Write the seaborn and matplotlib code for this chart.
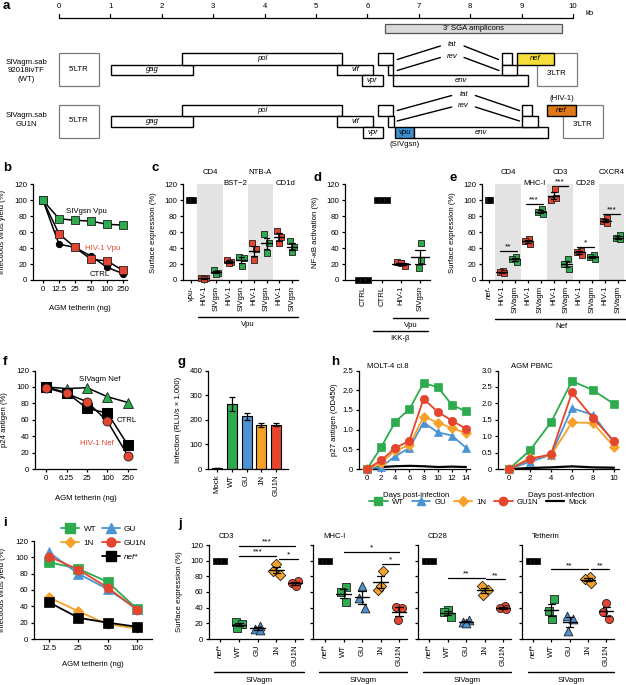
import numpy as np
import matplotlib
matplotlib.use('Agg')
import matplotlib.pyplot as plt
import seaborn as sns
from matplotlib.patches import Rectangle
from matplotlib.lines import Line2D

# ------------------------------------------------------------------ data
kb_ticks = [0, 1, 2, 3, 4, 5, 6, 7, 8, 9, 10]
sga_start, sga_end = 6.34, 9.79

wt_genes = ['gag', 'pol', 'vif', 'vpr', 'tat', 'rev', 'env', 'tat', 'rev', 'nef']
wt_start = [1.01, 2.40, 5.41, 5.89, 6.21, 6.40, 6.50, 8.62, 8.62, 8.91]
wt_end = [2.61, 5.51, 6.11, 6.30, 6.50, 6.50, 9.12, 8.81, 8.91, 9.63]
wt_frame = [1, 0, 1, 2, 0, 1, 2, 0, 1, 0]
wt_ltr = [(0.0, 0.78, "5'LTR"), (9.30, 10.08, "3'LTR")]

gu_genes = ['gag', 'pol', 'vif', 'vpr', 'tat', 'rev', 'vpu', 'env', 'tat', 'rev', 'nef']
gu_start = [1.01, 2.40, 5.41, 5.91, 6.21, 6.40, 6.54, 6.91, 9.01, 9.01, 9.49]
gu_end = [2.61, 5.51, 6.11, 6.30, 6.50, 6.52, 6.91, 9.51, 9.20, 9.32, 10.06]
gu_frame = [1, 0, 1, 2, 0, 1, 2, 2, 0, 1, 0]
gu_ltr = [(0.0, 0.78, "5'LTR"), (9.81, 10.58, "3'LTR")]

b_doses = ['0', '12.5', '25', '50', '100', '250']
b_sivgsn = [100, 77, 75, 74, 70, 69]
b_hiv = [100, 58, 41, 26, 24, 12]
b_ctrl = [100, 45, 41, 30, 16, 8]

c_ticklabels = ['vpu-', 'HIV-1', 'SIVgsn', 'HIV-1', 'SIVgsn', 'HIV-1', 'SIVgsn', 'HIV-1', 'SIVgsn']
c_groups = ['CD4', 'BST\u22122', 'NTB-A', 'CD1d']
c_ctrl = [100, 100, 100]
c_hiv = [[2, 3, 1], [25, 22, 21], [46, 39, 25], [62, 54, 46]]
c_siv = [[12, 9, 8], [29, 28, 18], [58, 47, 34], [49, 42, 35]]

d_ticklabels = ['CTRL', 'CTRL', 'HIV-1', 'SIVgsn']
d_neg = [0, 0, 0]
d_pos = [100, 100, 100]
d_hiv = [22, 17, 21]
d_siv = [46, 25, 15]

e_ticklabels = ['nef-'] + ['HIV-1', 'SIVagm'] * 5
e_groups = ['CD4', 'MHC-I', 'CD3', 'CD28', 'CXCR4']
e_ctrl = [100, 100, 100]
e_hiv = [[11, 10, 9], [52, 49, 45], [114, 101, 103], [37, 35, 32], [78, 74, 72]]
e_siv = [[29, 27, 22], [89, 86, 83], [27, 20, 14], [31, 29, 27], [56, 53, 51]]
e_stars = ['**', '***', '***', '*', '***']
e_star_y = [37, 96, 118, 42, 83]

f_doses = ['0', '6.25', '25', '100', '250']
f_sivagm = [100, 98, 99, 88, 81]
f_ctrl = [100, 93, 74, 68, 29]
f_hiv = [99, 92, 82, 58, 16]

g_cats = ['Mock', 'WT', 'GU', '1N', 'GU1N']
g_vals = [4, 265, 215, 180, 180]
g_err = [1, 28, 14, 8, 6]

strains = ['WT', 'GU', '1N', 'GU1N', 'Mock']
molt_days = [0, 2, 4, 6, 8, 10, 12, 14]
molt_wt = [0, 0.55, 1.20, 1.52, 2.18, 2.08, 1.63, 1.46]
molt_gu = [0, 0.05, 0.33, 0.53, 1.18, 0.93, 0.85, 0.54]
molt_1n = [0, 0.15, 0.47, 0.60, 1.33, 1.18, 1.04, 0.91]
molt_gu1n = [0, 0.22, 0.53, 0.72, 1.78, 1.45, 1.23, 1.02]
molt_mock = [0, 0.05, 0.07, 0.08, 0.07, 0.05, 0.06, 0.05]
pbmc_days = [0, 2, 4, 6, 8, 10]
pbmc_wt = [0, 0.57, 1.42, 2.68, 2.40, 1.98]
pbmc_gu = [0, 0.22, 0.43, 1.85, 1.65, 0.80]
pbmc_1n = [0, 0.33, 0.42, 1.42, 1.40, 0.68]
pbmc_gu1n = [0, 0.30, 0.45, 2.33, 1.55, 0.85]
pbmc_mock = [0, 0.03, 0.05, 0.08, 0.05, 0.04]

i_doses = ['12.5', '25', '50', '100']
i_wt = [94, 86, 70, 37]
i_gu = [106, 80, 61, 37]
i_1n = [51, 34, 18, 13]
i_gu1n = [101, 85, 63, 36]
i_nef = [45, 26, 20, 15]

j_titles = ['CD3', 'MHC-I', 'CD28', 'Tetherin']
j_cats = ['nef*', 'WT', 'GU', '1N', 'GU1N']
j_nef = [100, 100, 100]
j_wt = [[22, 19, 14], [66, 60, 47], [37, 34, 28], [51, 36, 25]]
j_gu = [[17, 13, 11], [68, 52, 40], [24, 22, 21], [30, 25, 10]]
j_1n = [[96, 87, 82], [87, 63, 68], [68, 62, 56], [79, 76, 72]]
j_gu1n = [[74, 71, 68], [41, 40, 24], [42, 39, 38], [46, 35, 25]]
j_sig = [[(1, 4, 119, '***'), (1, 3, 106, '***'), (3.15, 4.15, 102, '*')],
         [(1, 4, 111, '*'), (3.1, 4, 96, '*')],
         [(1, 3, 78, '**'), (3.1, 4.1, 76, '**')],
         [(1, 3, 89, '**'), (3.15, 4.15, 89, '**')]]

# ------------------------------------------------------------------ style
sns.set_theme(style='ticks')
plt.rcParams['font.family'] = ['Liberation Sans', 'DejaVu Sans']
FS = 5.6
plt.rcParams.update({'font.size': FS, 'axes.linewidth': 0.9,
                     'xtick.major.width': 0.9, 'ytick.major.width': 0.9,
                     'xtick.major.size': 2.5, 'ytick.major.size': 2.5,
                     'xtick.labelsize': FS, 'ytick.labelsize': FS,
                     'axes.labelsize': FS, 'xtick.major.pad': 1.5,
                     'ytick.major.pad': 1.5, 'axes.edgecolor': 'black',
                     'xtick.color': 'black', 'ytick.color': 'black',
                     'text.color': 'black', 'axes.labelcolor': 'black'})

GREEN = '#2eaa4f'
RED = '#e4452e'
BLUE = '#4b93d3'
ORANGE = '#f5a12a'
EDGE = '#1e1e1e'
BAND = '#e3e3e3'

W, H = 626, 685
fig = plt.figure(figsize=(W / 100, H / 100), dpi=100)


def add_ax(box):
    x0, y0, x1, y1 = box
    ax = fig.add_axes([x0 / W, 1 - y1 / H, (x1 - x0) / W, (y1 - y0) / H])
    ax._pxbox = box
    return ax


def ya(ax, ypx):
    x0, y0, x1, y1 = ax._pxbox
    return (y1 - ypx) / (y1 - y0)


def xa(ax, xpx):
    x0, y0, x1, y1 = ax._pxbox
    return (xpx - x0) / (x1 - x0)


def xlim_px(ax, p0, sp):
    x0, y0, x1, y1 = ax._pxbox
    ax.set_xlim((x0 - p0) / sp, (x1 - p0) / sp)


def ftext(xpx, ypx, s, **kw):
    fig.text(xpx / W, 1 - ypx / H, s, **kw)


def style(ax):
    sns.despine(ax=ax)
    ax.set_facecolor('none')
    ax.tick_params(length=2.5, width=0.9, pad=1.5, labelsize=FS)


def underline(ax, a, b, ypx, label, typx):
    tr = ax.get_xaxis_transform()
    ax.plot([a, b], [ya(ax, ypx)] * 2, color='black', lw=1.0, transform=tr, clip_on=False)
    ax.text((a + b) / 2, ya(ax, typx), label, transform=tr, ha='center', va='center', fontsize=FS)


def dots(ax, pos, vals, offs, color, marker, ms, mean_hw=None, cap_hw=None):
    xs = [pos + o for o in offs[:len(vals)]]
    sns.scatterplot(x=xs, y=vals, ax=ax, color=color, marker=marker, s=ms ** 2,
                    edgecolor=EDGE, linewidth=0.6, zorder=3, clip_on=False, legend=False)
    if mean_hw:
        m = float(np.mean(vals))
        se = float(np.std(vals, ddof=1) / np.sqrt(len(vals)))
        ax.plot([pos - mean_hw, pos + mean_hw], [m, m], color='black', lw=1.0, zorder=4, clip_on=False)
        if se > 0:
            ax.plot([pos, pos], [m - se, m + se], color='black', lw=0.9, zorder=4, clip_on=False)
            for v in (m - se, m + se):
                ax.plot([pos - cap_hw, pos + cap_hw], [v, v], color='black', lw=0.9, zorder=4, clip_on=False)


def sig(ax, a, b, y, stars):
    ax.plot([a, b], [y, y], color='black', lw=0.9, clip_on=False)
    ax.text((a + b) / 2, y + 0.5, stars, ha='center', va='bottom', fontsize=FS + 0.5)


def letter(xpx, ypx, s):
    ftext(xpx, ypx, s, fontsize=9.5, fontweight='bold', ha='left', va='center')


# ------------------------------------------------------------------ panel a
axa = add_ax((0, 0, 626, 150))
axa.set_xlim(-59 / 51.4, (626 - 59) / 51.4)
axa.set_ylim(150, 0)
axa.axis('off')
axa.plot([kb_ticks[0], kb_ticks[-1]], [18, 18], color='black', lw=0.9)
for k in kb_ticks:
    axa.plot([k, k], [18, 13.5], color='black', lw=0.9)
    axa.text(k, 7, str(k), ha='center', va='center', fontsize=FS)
axa.text(10.33, 13.5, 'kb', ha='center', va='center', fontsize=FS)
axa.add_patch(Rectangle((sga_start, 23.5), sga_end - sga_start, 9.5, fc='#d9d9d9', ec='#555555', lw=0.9))
axa.text((sga_start + sga_end) / 2, 28.3, "3\u2032 SGA amplicons", ha='center', va='center', fontsize=FS)

frame_y = [(0, 11.7), (11.7, 22.2), (22.2, 33.0)]


def genome(top, names, starts, ends, frames, ltrs, special):
    for s, e, lab in ltrs:
        axa.add_patch(Rectangle((s, top), e - s, 33, fc='white', ec='#7a7a7a', lw=0.9))
        yl = top + 16.5 if lab.startswith('5') else top + 20.5
        axa.text((s + e) / 2, yl, lab.replace("'", "\u2032"), ha='center', va='center', fontsize=FS)
    for n, s, e, f in zip(names, starts, ends, frames):
        y0, y1 = frame_y[f]
        fc = special.get(n, 'white')
        axa.add_patch(Rectangle((s, top + y0), e - s, y1 - y0, fc=fc, ec='black', lw=1.0, zorder=3))
        if n not in ('tat', 'rev'):
            axa.text((s + e) / 2, top + (y0 + y1) / 2, n, ha='center', va='center',
                     fontsize=FS, style='italic', zorder=4)


genome(53, wt_genes, wt_start, wt_end, wt_frame, wt_ltr, {'nef': '#f6de3a'})
genome(104.5, gu_genes, gu_start, gu_end, gu_frame, gu_ltr, {'nef': '#e0781a', 'vpu': '#3d8fd0'})


def splice(top, x_start, x_end, peak, lab, yl, yh):
    axa.plot([x_start, peak - 0.23], [top + yl, top + yh], color='black', lw=1.0)
    axa.plot([peak + 0.23, x_end], [top + yh, top + yl], color='black', lw=1.0)
    axa.text(peak, top + yh - 1.5, lab, ha='center', va='center', fontsize=FS, style='italic')


splice(53, 6.58, 8.55, 7.65, 'tat', 6.5, -7.0)
splice(53, 6.58, 8.56, 7.65, 'rev', 17.5, 4.5)
splice(104.5, 6.58, 8.96, 7.87, 'tat', 6.0, -9.0)
splice(104.5, 6.58, 8.96, 7.87, 'rev', 16.5, 2.5)
axa.text(9.79, 98, '(HIV-1)', ha='center', va='center', fontsize=FS)
axa.text(6.73, 145, '(SIVgsn)', ha='center', va='center', fontsize=FS)
ftext(26, 71, 'SIVagm.sab\n92018ivTF\n(WT)', ha='center', va='center', fontsize=FS, linespacing=1.25)
ftext(26, 120, 'SIVagm.sab\nGU1N', ha='center', va='center', fontsize=FS, linespacing=1.25)
letter(3, 6, 'a')

# ------------------------------------------------------------------ panel b
axb = add_ax((33, 184.5, 127, 280))
style(axb)
xb = np.arange(len(b_doses))
sns.lineplot(x=xb, y=b_ctrl, ax=axb, color='black', lw=1.1, marker='o', markersize=4.5,
             markerfacecolor='black', markeredgecolor='black', clip_on=False, legend=False)
sns.lineplot(x=xb, y=b_hiv, ax=axb, color='black', lw=1.1, marker='s', markersize=6,
             markerfacecolor=RED, markeredgecolor=EDGE, markeredgewidth=0.6, clip_on=False, legend=False)
sns.lineplot(x=xb, y=b_sivgsn, ax=axb, color='black', lw=1.1, marker='s', markersize=6,
             markerfacecolor=GREEN, markeredgecolor=EDGE, markeredgewidth=0.6, clip_on=False, legend=False)
axb.set_ylim(0, 120)
axb.set_yticks(range(0, 121, 20))
xlim_px(axb, 43, 16)
axb.set_xticks(xb)
axb.set_xticklabels(b_doses)
axb.set_xlabel('AGM tetherin (ng)')
axb.xaxis.set_label_coords(0.5, ya(axb, 305))
axb.set_ylabel('Infectious virus yield (%)')
axb.yaxis.set_label_coords(xa(axb, 6), 0.5)
axb.text(2.7, 86, 'SIVgsn Vpu', ha='center', va='center', fontsize=FS)
axb.text(3.7, 40, 'HIV-1 Vpu', ha='center', va='center', fontsize=FS, color=RED)
axb.text(3.55, 7.5, 'CTRL', ha='center', va='center', fontsize=FS)
letter(3, 168, 'b')

# ------------------------------------------------------------------ panel c
axc = add_ax((183, 184.5, 298, 280))
style(axc)
axc.set_ylim(0, 120)
axc.set_yticks(range(0, 121, 20))
xlim_px(axc, 191, 12.6)
for k in (0, 2):
    axc.axvspan(2 * k + 0.5, 2 * k + 2.5, color=BAND, lw=0, zorder=0)
dots(axc, 0, c_ctrl, [-0.15, 0.0, 0.15], 'black', 's', 5)
offs = [-0.18, 0.17, 0.02]
for k in range(4):
    dots(axc, 2 * k + 1, c_hiv[k], offs, RED, 's', 5, 0.42, 0.22)
    dots(axc, 2 * k + 2, c_siv[k], offs, GREEN, 's', 5, 0.42, 0.22)
axc.set_xticks(range(len(c_ticklabels)))
axc.set_xticklabels(c_ticklabels, rotation=90)
axc.get_xticklabels()[0].set_style('italic')
trc = axc.get_xaxis_transform()
for k, g in enumerate(c_groups):
    axc.text(2 * k + 1.5, ya(axc, 173 if k % 2 == 0 else 183.5), g, transform=trc,
             ha='center', va='center', fontsize=FS)
axc.set_ylabel('Surface expression (%)')
axc.yaxis.set_label_coords(xa(axc, 157), 0.5)
underline(axc, 0.55, 8.5, 317, 'Vpu', 324.5)
letter(152, 168, 'c')

# ------------------------------------------------------------------ panel d
axd = add_ax((345, 184.5, 430, 280))
style(axd)
axd.set_ylim(0, 120)
axd.set_yticks(range(0, 121, 20))
xlim_px(axd, 363, 19)
dots(axd, 0, d_neg, [-0.25, 0.0, 0.25], 'black', 's', 5)
dots(axd, 1, d_pos, [-0.25, 0.0, 0.25], 'black', 's', 5)
dots(axd, 2, d_hiv, [-0.2, 0.2, 0.02], RED, 's', 5, 0.45, 0.28)
dots(axd, 3, d_siv, [0.05, 0.05, -0.05], GREEN, 's', 5, 0.45, 0.28)
axd.set_xticks(range(len(d_ticklabels)))
axd.set_xticklabels(d_ticklabels, rotation=90)
axd.set_ylabel('NF-\u03baB activation (%)')
axd.yaxis.set_label_coords(xa(axd, 319), 0.5)
underline(axd, 1.6, 3.4, 318.5, 'Vpu', 325.5)
underline(axd, 0.5, 3.4, 331.5, 'IKK-\u03b2', 339)
letter(314, 178, 'd')

# ------------------------------------------------------------------ panel e
axe = add_ax((482, 184.5, 625, 280))
style(axe)
axe.set_ylim(0, 120)
axe.set_yticks(range(0, 121, 20))
xlim_px(axe, 489, 12.9)
for k in (0, 2, 4):
    axe.axvspan(2 * k + 0.5, 2 * k + 2.5, color=BAND, lw=0, zorder=0)
dots(axe, 0, e_ctrl, [-0.1, 0.0, 0.1], 'black', 's', 5)
offs_e = [0.12, -0.18, 0.18]
for k in range(5):
    dots(axe, 2 * k + 1, e_hiv[k], offs_e, RED, 's', 5, 0.42, 0.22)
    dots(axe, 2 * k + 2, e_siv[k], offs_e, GREEN, 's', 5, 0.42, 0.22)
    sig(axe, 2 * k + 0.85, 2 * k + 2.15, e_star_y[k], e_stars[k])
axe.set_xticks(range(len(e_ticklabels)))
axe.set_xticklabels(e_ticklabels, rotation=90)
axe.get_xticklabels()[0].set_style('italic')
tre = axe.get_xaxis_transform()
for k, g in enumerate(e_groups):
    axe.text(2 * k + 1.5, ya(axe, 173 if k % 2 == 0 else 183.5), g, transform=tre,
             ha='center', va='center', fontsize=FS)
axe.set_ylabel('Surface expression (%)')
axe.yaxis.set_label_coords(xa(axe, 456), 0.5)
underline(axe, 0.5, 10.75, 319.5, 'Nef', 327)
letter(450, 178, 'e')

# ------------------------------------------------------------------ panel f
axf = add_ax((35, 370.5, 136, 469))
style(axf)
xf = np.arange(len(f_doses))
sns.lineplot(x=xf, y=f_sivagm, ax=axf, color='black', lw=1.1, marker='^', markersize=6.5,
             markerfacecolor=GREEN, markeredgecolor=EDGE, markeredgewidth=0.6, clip_on=False, legend=False)
sns.lineplot(x=xf, y=f_ctrl, ax=axf, color='black', lw=1.1, marker='s', markersize=6.5,
             markerfacecolor='black', markeredgecolor='black', clip_on=False, legend=False)
sns.lineplot(x=xf, y=f_hiv, ax=axf, color='black', lw=1.1, marker='o', markersize=6.5,
             markerfacecolor=RED, markeredgecolor=EDGE, markeredgewidth=0.6, clip_on=False, legend=False)
axf.set_ylim(0, 120)
axf.set_yticks(range(0, 121, 20))
xlim_px(axf, 46, 20.5)
axf.set_xticks(xf)
axf.set_xticklabels(f_doses)
axf.set_xlabel('AGM tetherin (ng)')
axf.xaxis.set_label_coords(0.5, ya(axf, 495))
axf.set_ylabel('p24 antigen (%)')
axf.yaxis.set_label_coords(xa(axf, 8), 0.5)
axf.text(2.63, 109, 'SIVagm Nef', ha='center', va='center', fontsize=FS)
axf.text(3.95, 59, 'CTRL', ha='center', va='center', fontsize=FS)
axf.text(2.5, 31, 'HIV-1 Nef', ha='center', va='center', fontsize=FS, color=RED)
letter(3, 362, 'f')

# ------------------------------------------------------------------ panel g
axg = add_ax((208, 370.5, 288, 469))
style(axg)
g_cols = ['#222222', GREEN, BLUE, ORANGE, RED]
sns.barplot(x=g_cats, y=g_vals, hue=g_cats, palette=g_cols, ax=axg, width=0.68,
            edgecolor='black', linewidth=0.8, legend=False, errorbar=None, saturation=1)
axg.errorbar(range(len(g_cats)), g_vals, yerr=g_err, fmt='none', ecolor='black',
             elinewidth=0.9, capsize=2, capthick=0.9, zorder=5)
axg.set_ylim(0, 400)
axg.set_yticks(range(0, 401, 100))
xlim_px(axg, 217, 14.8)
axg.set_xticks(range(len(g_cats)))
axg.set_xticklabels(g_cats, rotation=90)
axg.set_xlabel('')
axg.set_ylabel('Infection (RLU/s \u00d7 1,000)')
axg.yaxis.set_label_coords(xa(axg, 182), 0.5)
letter(178, 362, 'g')

# ------------------------------------------------------------------ panel h
h_cols = [GREEN, BLUE, ORANGE, RED, 'black']
h_mk = ['s', '^', 'D', 'o', None]
h_ms = [6, 6, 5, 6, 0]


def hplot(ax, days, series):
    for ser, col, mk, ms in zip(series, h_cols, h_mk, h_ms):
        if mk is None:
            sns.lineplot(x=days, y=ser, ax=ax, color=col, lw=1.6, clip_on=False, legend=False, zorder=2)
        else:
            sns.lineplot(x=days, y=ser, ax=ax, color=col, lw=1.3, marker=mk, markersize=ms,
                         markerfacecolor=col, markeredgecolor=col, markeredgewidth=0.5,
                         clip_on=False, legend=False, zorder=3)


axh1 = add_ax((359, 370.5, 470, 469))
style(axh1)
hplot(axh1, molt_days, [molt_wt, molt_gu, molt_1n, molt_gu1n, molt_mock])
axh1.set_ylim(0, 2.5)
axh1.set_yticks([0, 0.5, 1.0, 1.5, 2.0, 2.5])
axh1.set_yticklabels(['0', '0.5', '1.0', '1.5', '2.0', '2.5'])
xlim_px(axh1, 367, 7.07)
axh1.set_xticks(molt_days)
axh1.set_xlabel('Days post-infection')
axh1.xaxis.set_label_coords(xa(axh1, 416), ya(axh1, 492))
axh1.set_ylabel('p27 antigen (OD450)')
axh1.yaxis.set_label_coords(xa(axh1, 338), 0.5)
ftext(367, 367, 'MOLT-4 cl.8', ha='left', va='center', fontsize=FS)

axh2 = add_ax((498, 370.5, 619, 469))
style(axh2)
hplot(axh2, pbmc_days, [pbmc_wt, pbmc_gu, pbmc_1n, pbmc_gu1n, pbmc_mock])
axh2.set_ylim(0, 3.0)
axh2.set_yticks([0, 0.5, 1.0, 1.5, 2.0, 2.5, 3.0])
axh2.set_yticklabels(['0', '0.5', '1.0', '1.5', '2.0', '2.5', '3.0'])
xlim_px(axh2, 509, 10.5)
axh2.set_xticks(pbmc_days)
axh2.set_xlabel('Days post-infection')
axh2.xaxis.set_label_coords(xa(axh2, 561), ya(axh2, 492))
axh2.set_ylabel('')
ftext(511, 367, 'AGM PBMC', ha='left', va='center', fontsize=FS)

h_handles = []
for col, mk, ms in zip(h_cols, h_mk, h_ms):
    if mk is None:
        h_handles.append(Line2D([], [], color=col, lw=1.6))
    else:
        h_handles.append(Line2D([], [], color=col, lw=1.3, marker=mk, markersize=ms,
                                markerfacecolor=col, markeredgecolor=col))
fig.legend(h_handles, strains, loc='center', bbox_to_anchor=(478 / W, 1 - 502 / H), ncol=5,
           frameon=False, fontsize=FS, handlelength=2.4, columnspacing=1.0, handletextpad=0.5,
           borderpad=0)
letter(331, 362, 'h')

# ------------------------------------------------------------------ panel i
axi = add_ax((34, 541, 152, 639))
style(axi)
xi = np.arange(len(i_doses))
i_series = [i_wt, i_gu, i_1n, i_gu1n, i_nef]
i_cols = [GREEN, BLUE, ORANGE, RED, 'black']
i_mk = ['s', '^', 'D', 'o', 's']
i_ms = [6.5, 6.5, 5.5, 6.5, 6.5]
for ser, col, mk, ms in zip(i_series, i_cols, i_mk, i_ms):
    sns.lineplot(x=xi, y=ser, ax=axi, color=col, lw=1.3, marker=mk, markersize=ms,
                 markerfacecolor=col, markeredgecolor=col, markeredgewidth=0.5,
                 clip_on=False, legend=False)
axi.set_ylim(0, 120)
axi.set_yticks(range(0, 121, 20))
xlim_px(axi, 49, 29.3)
axi.set_xticks(xi)
axi.set_xticklabels(i_doses)
axi.set_xlabel('AGM tetherin (ng)')
axi.xaxis.set_label_coords(0.5, ya(axi, 661))
axi.set_ylabel('Infectious virus yield (%)')
axi.yaxis.set_label_coords(xa(axi, 6), 0.5)
ih = [Line2D([], [], color=c, lw=1.3, marker=m, markersize=s, markerfacecolor=c, markeredgecolor=c)
      for c, m, s in zip(i_cols, i_mk, i_ms)]
blank = Line2D([], [], color='none')
leg = axi.legend([ih[0], ih[2], blank, ih[1], ih[3], ih[4]],
                 ['WT', '1N', '', 'GU', 'GU1N', 'nef*'], ncol=2, frameon=False, fontsize=FS + 0.3,
                 loc='center', bbox_to_anchor=(xa(axi, 104), ya(axi, 543)), handlelength=2.2,
                 columnspacing=0.7, handletextpad=0.5, labelspacing=0.75, borderpad=0)
leg.get_texts()[5].set_style('italic')
letter(3, 523, 'i')

# ------------------------------------------------------------------ panel j
j_boxes = [(209, 545, 303, 639), (313, 545, 407, 639), (418, 545, 511, 639), (522, 545, 614, 639)]
j_p0 = [220, 325, 429, 533]
j_sp = [18.8, 18.5, 18.5, 18.3]
j_offs = [[-0.14, 0.18, -0.08], [0.12, -0.15, 0.15], [0.0, -0.18, 0.18], [0.15, -0.15, 0.02]]
for k in range(4):
    ax = add_ax(j_boxes[k])
    style(ax)
    ax.set_ylim(0, 120)
    ax.set_yticks(range(0, 121, 20))
    xlim_px(ax, j_p0[k], j_sp[k])
    dots(ax, 0, j_nef, [-0.2, 0.0, 0.2], 'black', 's', 5)
    dots(ax, 1, j_wt[k], j_offs[k], GREEN, 's', 5.8, 0.38, 0.2)
    dots(ax, 2, j_gu[k], j_offs[(k + 1) % 4], BLUE, '^', 6.3, 0.38, 0.2)
    dots(ax, 3, j_1n[k], j_offs[(k + 2) % 4], ORANGE, 'D', 5.3, 0.38, 0.2)
    dots(ax, 4, j_gu1n[k], j_offs[(k + 3) % 4], RED, 'o', 5.8, 0.38, 0.2)
    for a, b, y, st in j_sig[k]:
        sig(ax, a, b, y, st)
    ax.set_xticks(range(len(j_cats)))
    ax.set_xticklabels(j_cats, rotation=90)
    ax.get_xticklabels()[0].set_style('italic')
    if k == 0:
        ax.set_ylabel('Surface expression (%)')
        ax.yaxis.set_label_coords(xa(ax, 183), 0.5)
    else:
        ax.set_yticklabels([])
    ftext(j_boxes[k][0] + 10, 537, j_titles[k], ha='left', va='center', fontsize=FS)
    underline(ax, -0.3, 4.45, 672, 'SIVagm', 681)
letter(178, 524, 'j')

fig.savefig('out.png', dpi=100)
